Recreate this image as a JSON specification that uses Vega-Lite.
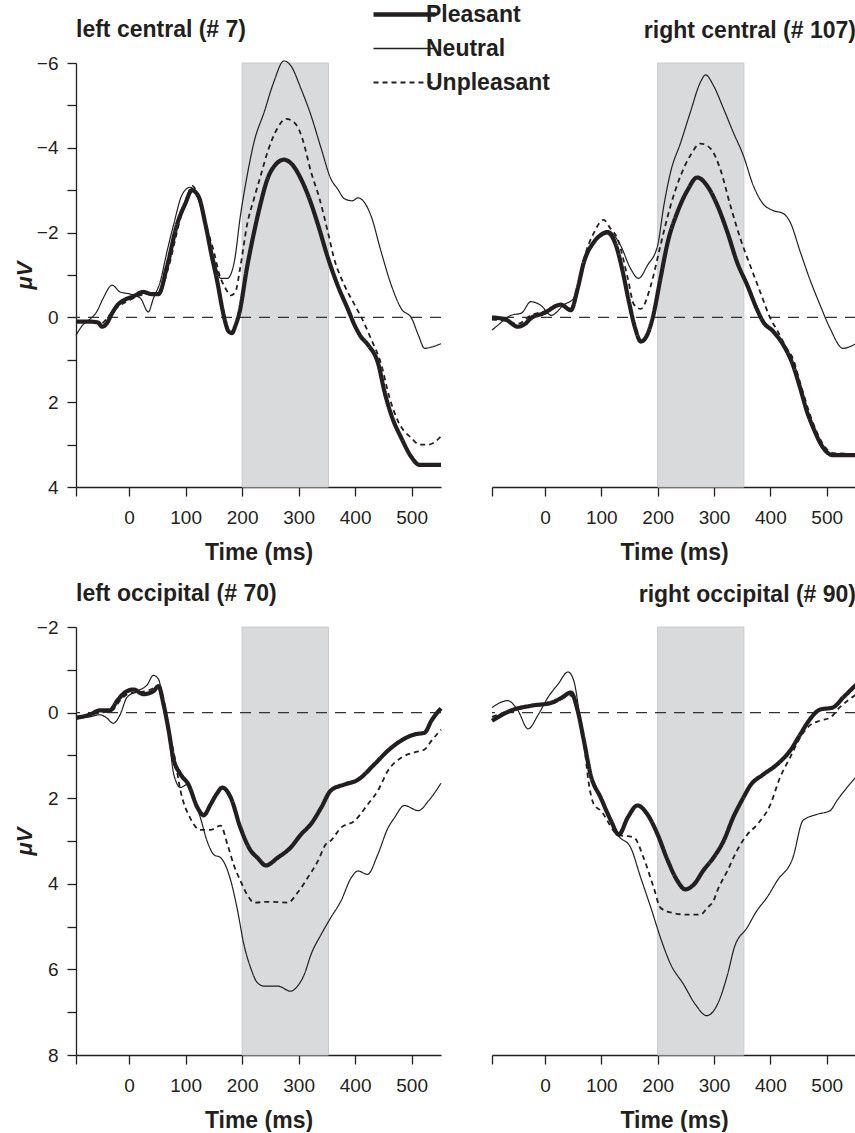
{
  "$schema": "https://vega.github.io/schema/vega-lite/v6.json",
  "background": "white",
  "padding": {"left": 13, "top": 3, "right": 0, "bottom": 0},
  "data": {"values": [
      {"p":"band","c":"band","t0":200,"t1":353,"base":0},
      {"p":"lc","c":"Pleasant","t":-94,"v":0.1},{"p":"lc","c":"Pleasant","t":-70,"v":0.1},{"p":"lc","c":"Pleasant","t":-55,"v":0.12},{"p":"lc","c":"Pleasant","t":-48,"v":0.22},{"p":"lc","c":"Pleasant","t":-40,"v":0.15},{"p":"lc","c":"Pleasant","t":-30,"v":-0.1},{"p":"lc","c":"Pleasant","t":-20,"v":-0.3},{"p":"lc","c":"Pleasant","t":-10,"v":-0.4},{"p":"lc","c":"Pleasant","t":8,"v":-0.5},{"p":"lc","c":"Pleasant","t":25,"v":-0.6},{"p":"lc","c":"Pleasant","t":40,"v":-0.55},{"p":"lc","c":"Pleasant","t":52,"v":-0.55},{"p":"lc","c":"Pleasant","t":67,"v":-1.2},{"p":"lc","c":"Pleasant","t":85,"v":-2.2},{"p":"lc","c":"Pleasant","t":100,"v":-2.7},{"p":"lc","c":"Pleasant","t":111,"v":-3.0},{"p":"lc","c":"Pleasant","t":123,"v":-2.85},{"p":"lc","c":"Pleasant","t":135,"v":-2.2},{"p":"lc","c":"Pleasant","t":147,"v":-1.4},{"p":"lc","c":"Pleasant","t":156,"v":-0.85},{"p":"lc","c":"Pleasant","t":165,"v":-0.2},{"p":"lc","c":"Pleasant","t":170,"v":0.1},{"p":"lc","c":"Pleasant","t":176,"v":0.33},{"p":"lc","c":"Pleasant","t":182,"v":0.37},{"p":"lc","c":"Pleasant","t":188,"v":0.2},{"p":"lc","c":"Pleasant","t":195,"v":-0.1},{"p":"lc","c":"Pleasant","t":209,"v":-1.2},{"p":"lc","c":"Pleasant","t":221,"v":-2.0},{"p":"lc","c":"Pleasant","t":233,"v":-2.7},{"p":"lc","c":"Pleasant","t":245,"v":-3.27},{"p":"lc","c":"Pleasant","t":259,"v":-3.6},{"p":"lc","c":"Pleasant","t":274,"v":-3.72},{"p":"lc","c":"Pleasant","t":289,"v":-3.6},{"p":"lc","c":"Pleasant","t":304,"v":-3.27},{"p":"lc","c":"Pleasant","t":319,"v":-2.8},{"p":"lc","c":"Pleasant","t":334,"v":-2.2},{"p":"lc","c":"Pleasant","t":352,"v":-1.4},{"p":"lc","c":"Pleasant","t":369,"v":-0.76},{"p":"lc","c":"Pleasant","t":387,"v":-0.2},{"p":"lc","c":"Pleasant","t":399,"v":0.18},{"p":"lc","c":"Pleasant","t":410,"v":0.45},{"p":"lc","c":"Pleasant","t":423,"v":0.65},{"p":"lc","c":"Pleasant","t":441,"v":1.1},{"p":"lc","c":"Pleasant","t":452,"v":1.75},{"p":"lc","c":"Pleasant","t":464,"v":2.3},{"p":"lc","c":"Pleasant","t":482,"v":2.85},{"p":"lc","c":"Pleasant","t":500,"v":3.3},{"p":"lc","c":"Pleasant","t":514,"v":3.48},{"p":"lc","c":"Pleasant","t":552,"v":3.48},
      {"p":"lc","c":"Unpleasant","t":-94,"v":0.1},{"p":"lc","c":"Unpleasant","t":-70,"v":0.08},{"p":"lc","c":"Unpleasant","t":-50,"v":0.15},{"p":"lc","c":"Unpleasant","t":-35,"v":-0.05},{"p":"lc","c":"Unpleasant","t":-20,"v":-0.25},{"p":"lc","c":"Unpleasant","t":0,"v":-0.4},{"p":"lc","c":"Unpleasant","t":30,"v":-0.55},{"p":"lc","c":"Unpleasant","t":52,"v":-0.55},{"p":"lc","c":"Unpleasant","t":70,"v":-1.2},{"p":"lc","c":"Unpleasant","t":90,"v":-2.3},{"p":"lc","c":"Unpleasant","t":104,"v":-2.9},{"p":"lc","c":"Unpleasant","t":112,"v":-3.1},{"p":"lc","c":"Unpleasant","t":125,"v":-2.75},{"p":"lc","c":"Unpleasant","t":140,"v":-2.0},{"p":"lc","c":"Unpleasant","t":150,"v":-1.55},{"p":"lc","c":"Unpleasant","t":160,"v":-1.0},{"p":"lc","c":"Unpleasant","t":170,"v":-0.7},{"p":"lc","c":"Unpleasant","t":180,"v":-0.52},{"p":"lc","c":"Unpleasant","t":188,"v":-0.6},{"p":"lc","c":"Unpleasant","t":197,"v":-1.2},{"p":"lc","c":"Unpleasant","t":209,"v":-2.2},{"p":"lc","c":"Unpleasant","t":221,"v":-2.8},{"p":"lc","c":"Unpleasant","t":233,"v":-3.35},{"p":"lc","c":"Unpleasant","t":245,"v":-3.9},{"p":"lc","c":"Unpleasant","t":262,"v":-4.45},{"p":"lc","c":"Unpleasant","t":278,"v":-4.68},{"p":"lc","c":"Unpleasant","t":290,"v":-4.62},{"p":"lc","c":"Unpleasant","t":300,"v":-4.45},{"p":"lc","c":"Unpleasant","t":307,"v":-4.2},{"p":"lc","c":"Unpleasant","t":322,"v":-3.43},{"p":"lc","c":"Unpleasant","t":337,"v":-2.8},{"p":"lc","c":"Unpleasant","t":352,"v":-2.0},{"p":"lc","c":"Unpleasant","t":363,"v":-1.38},{"p":"lc","c":"Unpleasant","t":381,"v":-0.76},{"p":"lc","c":"Unpleasant","t":399,"v":-0.3},{"p":"lc","c":"Unpleasant","t":411,"v":0.0},{"p":"lc","c":"Unpleasant","t":428,"v":0.5},{"p":"lc","c":"Unpleasant","t":446,"v":1.1},{"p":"lc","c":"Unpleasant","t":461,"v":1.9},{"p":"lc","c":"Unpleasant","t":476,"v":2.45},{"p":"lc","c":"Unpleasant","t":500,"v":2.85},{"p":"lc","c":"Unpleasant","t":514,"v":3.0},{"p":"lc","c":"Unpleasant","t":530,"v":3.0},{"p":"lc","c":"Unpleasant","t":540,"v":2.95},{"p":"lc","c":"Unpleasant","t":552,"v":2.8},
      {"p":"lc","c":"Neutral","t":-94,"v":0.42},{"p":"lc","c":"Neutral","t":-82,"v":0.18},{"p":"lc","c":"Neutral","t":-70,"v":0.05},{"p":"lc","c":"Neutral","t":-57,"v":-0.14},{"p":"lc","c":"Neutral","t":-46,"v":-0.45},{"p":"lc","c":"Neutral","t":-30,"v":-0.76},{"p":"lc","c":"Neutral","t":-16,"v":-0.6},{"p":"lc","c":"Neutral","t":2,"v":-0.55},{"p":"lc","c":"Neutral","t":20,"v":-0.45},{"p":"lc","c":"Neutral","t":34,"v":-0.13},{"p":"lc","c":"Neutral","t":43,"v":-0.45},{"p":"lc","c":"Neutral","t":55,"v":-0.84},{"p":"lc","c":"Neutral","t":67,"v":-1.55},{"p":"lc","c":"Neutral","t":79,"v":-2.2},{"p":"lc","c":"Neutral","t":94,"v":-2.9},{"p":"lc","c":"Neutral","t":108,"v":-3.07},{"p":"lc","c":"Neutral","t":120,"v":-2.87},{"p":"lc","c":"Neutral","t":135,"v":-2.2},{"p":"lc","c":"Neutral","t":150,"v":-1.4},{"p":"lc","c":"Neutral","t":162,"v":-0.92},{"p":"lc","c":"Neutral","t":174,"v":-0.92},{"p":"lc","c":"Neutral","t":186,"v":-1.3},{"p":"lc","c":"Neutral","t":197,"v":-2.4},{"p":"lc","c":"Neutral","t":209,"v":-3.35},{"p":"lc","c":"Neutral","t":221,"v":-4.13},{"p":"lc","c":"Neutral","t":239,"v":-4.84},{"p":"lc","c":"Neutral","t":256,"v":-5.55},{"p":"lc","c":"Neutral","t":274,"v":-6.05},{"p":"lc","c":"Neutral","t":286,"v":-5.94},{"p":"lc","c":"Neutral","t":304,"v":-5.4},{"p":"lc","c":"Neutral","t":322,"v":-4.76},{"p":"lc","c":"Neutral","t":340,"v":-3.98},{"p":"lc","c":"Neutral","t":357,"v":-3.27},{"p":"lc","c":"Neutral","t":369,"v":-3.03},{"p":"lc","c":"Neutral","t":381,"v":-2.8},{"p":"lc","c":"Neutral","t":395,"v":-2.75},{"p":"lc","c":"Neutral","t":405,"v":-2.82},{"p":"lc","c":"Neutral","t":416,"v":-2.72},{"p":"lc","c":"Neutral","t":428,"v":-2.4},{"p":"lc","c":"Neutral","t":446,"v":-1.55},{"p":"lc","c":"Neutral","t":464,"v":-0.76},{"p":"lc","c":"Neutral","t":482,"v":-0.2},{"p":"lc","c":"Neutral","t":500,"v":0.02},{"p":"lc","c":"Neutral","t":512,"v":0.42},{"p":"lc","c":"Neutral","t":523,"v":0.73},{"p":"lc","c":"Neutral","t":535,"v":0.7},{"p":"lc","c":"Neutral","t":552,"v":0.62},
      {"p":"rc","c":"Pleasant","t":-94,"v":0.0},{"p":"rc","c":"Pleasant","t":-70,"v":0.05},{"p":"rc","c":"Pleasant","t":-48,"v":0.22},{"p":"rc","c":"Pleasant","t":-35,"v":0.15},{"p":"rc","c":"Pleasant","t":-25,"v":0.02},{"p":"rc","c":"Pleasant","t":-2,"v":-0.1},{"p":"rc","c":"Pleasant","t":28,"v":-0.3},{"p":"rc","c":"Pleasant","t":46,"v":-0.17},{"p":"rc","c":"Pleasant","t":58,"v":-0.68},{"p":"rc","c":"Pleasant","t":69,"v":-1.3},{"p":"rc","c":"Pleasant","t":87,"v":-1.78},{"p":"rc","c":"Pleasant","t":100,"v":-1.95},{"p":"rc","c":"Pleasant","t":111,"v":-2.0},{"p":"rc","c":"Pleasant","t":126,"v":-1.7},{"p":"rc","c":"Pleasant","t":138,"v":-1.08},{"p":"rc","c":"Pleasant","t":149,"v":-0.37},{"p":"rc","c":"Pleasant","t":160,"v":0.25},{"p":"rc","c":"Pleasant","t":170,"v":0.57},{"p":"rc","c":"Pleasant","t":180,"v":0.45},{"p":"rc","c":"Pleasant","t":191,"v":0.02},{"p":"rc","c":"Pleasant","t":205,"v":-0.92},{"p":"rc","c":"Pleasant","t":218,"v":-1.78},{"p":"rc","c":"Pleasant","t":235,"v":-2.48},{"p":"rc","c":"Pleasant","t":253,"v":-3.0},{"p":"rc","c":"Pleasant","t":270,"v":-3.3},{"p":"rc","c":"Pleasant","t":288,"v":-3.1},{"p":"rc","c":"Pleasant","t":306,"v":-2.64},{"p":"rc","c":"Pleasant","t":324,"v":-2.0},{"p":"rc","c":"Pleasant","t":341,"v":-1.3},{"p":"rc","c":"Pleasant","t":359,"v":-0.76},{"p":"rc","c":"Pleasant","t":376,"v":-0.2},{"p":"rc","c":"Pleasant","t":387,"v":0.1},{"p":"rc","c":"Pleasant","t":405,"v":0.33},{"p":"rc","c":"Pleasant","t":423,"v":0.65},{"p":"rc","c":"Pleasant","t":440,"v":1.12},{"p":"rc","c":"Pleasant","t":453,"v":1.67},{"p":"rc","c":"Pleasant","t":465,"v":2.22},{"p":"rc","c":"Pleasant","t":476,"v":2.6},{"p":"rc","c":"Pleasant","t":494,"v":3.08},{"p":"rc","c":"Pleasant","t":511,"v":3.25},{"p":"rc","c":"Pleasant","t":552,"v":3.25},
      {"p":"rc","c":"Unpleasant","t":-94,"v":0.05},{"p":"rc","c":"Unpleasant","t":-70,"v":0.08},{"p":"rc","c":"Unpleasant","t":-48,"v":0.15},{"p":"rc","c":"Unpleasant","t":-25,"v":-0.05},{"p":"rc","c":"Unpleasant","t":0,"v":-0.15},{"p":"rc","c":"Unpleasant","t":28,"v":-0.3},{"p":"rc","c":"Unpleasant","t":46,"v":-0.2},{"p":"rc","c":"Unpleasant","t":58,"v":-0.6},{"p":"rc","c":"Unpleasant","t":70,"v":-1.4},{"p":"rc","c":"Unpleasant","t":87,"v":-2.0},{"p":"rc","c":"Unpleasant","t":104,"v":-2.3},{"p":"rc","c":"Unpleasant","t":116,"v":-2.1},{"p":"rc","c":"Unpleasant","t":129,"v":-1.85},{"p":"rc","c":"Unpleasant","t":147,"v":-0.92},{"p":"rc","c":"Unpleasant","t":158,"v":-0.3},{"p":"rc","c":"Unpleasant","t":170,"v":-0.2},{"p":"rc","c":"Unpleasant","t":188,"v":-0.76},{"p":"rc","c":"Unpleasant","t":205,"v":-1.7},{"p":"rc","c":"Unpleasant","t":223,"v":-2.64},{"p":"rc","c":"Unpleasant","t":241,"v":-3.35},{"p":"rc","c":"Unpleasant","t":258,"v":-3.82},{"p":"rc","c":"Unpleasant","t":276,"v":-4.1},{"p":"rc","c":"Unpleasant","t":294,"v":-3.98},{"p":"rc","c":"Unpleasant","t":311,"v":-3.5},{"p":"rc","c":"Unpleasant","t":329,"v":-2.64},{"p":"rc","c":"Unpleasant","t":347,"v":-1.85},{"p":"rc","c":"Unpleasant","t":364,"v":-1.23},{"p":"rc","c":"Unpleasant","t":382,"v":-0.6},{"p":"rc","c":"Unpleasant","t":400,"v":0.02},{"p":"rc","c":"Unpleasant","t":414,"v":0.35},{"p":"rc","c":"Unpleasant","t":429,"v":0.73},{"p":"rc","c":"Unpleasant","t":440,"v":0.97},{"p":"rc","c":"Unpleasant","t":453,"v":1.55},{"p":"rc","c":"Unpleasant","t":476,"v":2.5},{"p":"rc","c":"Unpleasant","t":494,"v":3.0},{"p":"rc","c":"Unpleasant","t":511,"v":3.2},{"p":"rc","c":"Unpleasant","t":552,"v":3.22},
      {"p":"rc","c":"Neutral","t":-94,"v":0.3},{"p":"rc","c":"Neutral","t":-85,"v":0.2},{"p":"rc","c":"Neutral","t":-60,"v":-0.05},{"p":"rc","c":"Neutral","t":-42,"v":-0.1},{"p":"rc","c":"Neutral","t":-25,"v":-0.37},{"p":"rc","c":"Neutral","t":-7,"v":-0.28},{"p":"rc","c":"Neutral","t":11,"v":-0.05},{"p":"rc","c":"Neutral","t":34,"v":-0.3},{"p":"rc","c":"Neutral","t":51,"v":-0.45},{"p":"rc","c":"Neutral","t":69,"v":-1.23},{"p":"rc","c":"Neutral","t":87,"v":-1.78},{"p":"rc","c":"Neutral","t":111,"v":-2.05},{"p":"rc","c":"Neutral","t":134,"v":-1.7},{"p":"rc","c":"Neutral","t":152,"v":-1.15},{"p":"rc","c":"Neutral","t":166,"v":-0.92},{"p":"rc","c":"Neutral","t":182,"v":-1.23},{"p":"rc","c":"Neutral","t":200,"v":-1.7},{"p":"rc","c":"Neutral","t":211,"v":-2.64},{"p":"rc","c":"Neutral","t":223,"v":-3.43},{"p":"rc","c":"Neutral","t":241,"v":-4.13},{"p":"rc","c":"Neutral","t":258,"v":-4.84},{"p":"rc","c":"Neutral","t":276,"v":-5.55},{"p":"rc","c":"Neutral","t":285,"v":-5.72},{"p":"rc","c":"Neutral","t":299,"v":-5.47},{"p":"rc","c":"Neutral","t":317,"v":-4.92},{"p":"rc","c":"Neutral","t":334,"v":-4.37},{"p":"rc","c":"Neutral","t":352,"v":-3.82},{"p":"rc","c":"Neutral","t":370,"v":-3.1},{"p":"rc","c":"Neutral","t":387,"v":-2.68},{"p":"rc","c":"Neutral","t":405,"v":-2.52},{"p":"rc","c":"Neutral","t":423,"v":-2.45},{"p":"rc","c":"Neutral","t":435,"v":-2.25},{"p":"rc","c":"Neutral","t":453,"v":-1.55},{"p":"rc","c":"Neutral","t":470,"v":-0.9},{"p":"rc","c":"Neutral","t":488,"v":-0.3},{"p":"rc","c":"Neutral","t":506,"v":0.26},{"p":"rc","c":"Neutral","t":529,"v":0.73},{"p":"rc","c":"Neutral","t":541,"v":0.69},{"p":"rc","c":"Neutral","t":552,"v":0.62},
      {"p":"lo","c":"Pleasant","t":-94,"v":0.12},{"p":"lo","c":"Pleasant","t":-70,"v":0.05},{"p":"lo","c":"Pleasant","t":-52,"v":-0.05},{"p":"lo","c":"Pleasant","t":-34,"v":-0.05},{"p":"lo","c":"Pleasant","t":-21,"v":-0.28},{"p":"lo","c":"Pleasant","t":-4,"v":-0.5},{"p":"lo","c":"Pleasant","t":8,"v":-0.54},{"p":"lo","c":"Pleasant","t":25,"v":-0.43},{"p":"lo","c":"Pleasant","t":43,"v":-0.5},{"p":"lo","c":"Pleasant","t":52,"v":-0.62},{"p":"lo","c":"Pleasant","t":61,"v":-0.19},{"p":"lo","c":"Pleasant","t":70,"v":0.42},{"p":"lo","c":"Pleasant","t":78,"v":1.05},{"p":"lo","c":"Pleasant","t":91,"v":1.44},{"p":"lo","c":"Pleasant","t":105,"v":1.68},{"p":"lo","c":"Pleasant","t":121,"v":2.22},{"p":"lo","c":"Pleasant","t":132,"v":2.4},{"p":"lo","c":"Pleasant","t":144,"v":2.15},{"p":"lo","c":"Pleasant","t":155,"v":1.9},{"p":"lo","c":"Pleasant","t":165,"v":1.75},{"p":"lo","c":"Pleasant","t":180,"v":1.99},{"p":"lo","c":"Pleasant","t":197,"v":2.69},{"p":"lo","c":"Pleasant","t":215,"v":3.22},{"p":"lo","c":"Pleasant","t":227,"v":3.39},{"p":"lo","c":"Pleasant","t":242,"v":3.57},{"p":"lo","c":"Pleasant","t":263,"v":3.39},{"p":"lo","c":"Pleasant","t":286,"v":3.15},{"p":"lo","c":"Pleasant","t":304,"v":2.85},{"p":"lo","c":"Pleasant","t":322,"v":2.6},{"p":"lo","c":"Pleasant","t":340,"v":2.22},{"p":"lo","c":"Pleasant","t":357,"v":1.82},{"p":"lo","c":"Pleasant","t":381,"v":1.68},{"p":"lo","c":"Pleasant","t":405,"v":1.57},{"p":"lo","c":"Pleasant","t":434,"v":1.21},{"p":"lo","c":"Pleasant","t":458,"v":0.89},{"p":"lo","c":"Pleasant","t":482,"v":0.65},{"p":"lo","c":"Pleasant","t":505,"v":0.51},{"p":"lo","c":"Pleasant","t":523,"v":0.47},{"p":"lo","c":"Pleasant","t":535,"v":0.19},{"p":"lo","c":"Pleasant","t":552,"v":-0.1},
      {"p":"lo","c":"Unpleasant","t":-94,"v":0.1},{"p":"lo","c":"Unpleasant","t":-70,"v":0.05},{"p":"lo","c":"Unpleasant","t":-50,"v":0.0},{"p":"lo","c":"Unpleasant","t":-30,"v":-0.05},{"p":"lo","c":"Unpleasant","t":-15,"v":-0.3},{"p":"lo","c":"Unpleasant","t":0,"v":-0.45},{"p":"lo","c":"Unpleasant","t":30,"v":-0.5},{"p":"lo","c":"Unpleasant","t":52,"v":-0.6},{"p":"lo","c":"Unpleasant","t":61,"v":-0.3},{"p":"lo","c":"Unpleasant","t":70,"v":0.4},{"p":"lo","c":"Unpleasant","t":80,"v":1.0},{"p":"lo","c":"Unpleasant","t":91,"v":1.83},{"p":"lo","c":"Unpleasant","t":108,"v":2.46},{"p":"lo","c":"Unpleasant","t":126,"v":2.74},{"p":"lo","c":"Unpleasant","t":144,"v":2.74},{"p":"lo","c":"Unpleasant","t":162,"v":2.64},{"p":"lo","c":"Unpleasant","t":174,"v":3.08},{"p":"lo","c":"Unpleasant","t":185,"v":3.55},{"p":"lo","c":"Unpleasant","t":197,"v":3.93},{"p":"lo","c":"Unpleasant","t":212,"v":4.32},{"p":"lo","c":"Unpleasant","t":221,"v":4.44},{"p":"lo","c":"Unpleasant","t":245,"v":4.42},{"p":"lo","c":"Unpleasant","t":281,"v":4.44},{"p":"lo","c":"Unpleasant","t":298,"v":4.21},{"p":"lo","c":"Unpleasant","t":316,"v":3.86},{"p":"lo","c":"Unpleasant","t":334,"v":3.47},{"p":"lo","c":"Unpleasant","t":348,"v":3.08},{"p":"lo","c":"Unpleasant","t":357,"v":2.99},{"p":"lo","c":"Unpleasant","t":375,"v":2.69},{"p":"lo","c":"Unpleasant","t":399,"v":2.53},{"p":"lo","c":"Unpleasant","t":422,"v":2.15},{"p":"lo","c":"Unpleasant","t":440,"v":1.83},{"p":"lo","c":"Unpleasant","t":458,"v":1.36},{"p":"lo","c":"Unpleasant","t":482,"v":1.05},{"p":"lo","c":"Unpleasant","t":505,"v":0.93},{"p":"lo","c":"Unpleasant","t":523,"v":0.86},{"p":"lo","c":"Unpleasant","t":535,"v":0.66},{"p":"lo","c":"Unpleasant","t":552,"v":0.4},
      {"p":"lo","c":"Neutral","t":-94,"v":0.15},{"p":"lo","c":"Neutral","t":-70,"v":0.1},{"p":"lo","c":"Neutral","t":-52,"v":0.05},{"p":"lo","c":"Neutral","t":-40,"v":0.12},{"p":"lo","c":"Neutral","t":-28,"v":0.25},{"p":"lo","c":"Neutral","t":-16,"v":0.05},{"p":"lo","c":"Neutral","t":-4,"v":-0.35},{"p":"lo","c":"Neutral","t":14,"v":-0.5},{"p":"lo","c":"Neutral","t":32,"v":-0.65},{"p":"lo","c":"Neutral","t":43,"v":-0.87},{"p":"lo","c":"Neutral","t":52,"v":-0.78},{"p":"lo","c":"Neutral","t":61,"v":-0.19},{"p":"lo","c":"Neutral","t":70,"v":0.51},{"p":"lo","c":"Neutral","t":79,"v":1.44},{"p":"lo","c":"Neutral","t":91,"v":1.75},{"p":"lo","c":"Neutral","t":103,"v":1.68},{"p":"lo","c":"Neutral","t":114,"v":1.99},{"p":"lo","c":"Neutral","t":126,"v":2.45},{"p":"lo","c":"Neutral","t":138,"v":3.0},{"p":"lo","c":"Neutral","t":150,"v":3.32},{"p":"lo","c":"Neutral","t":162,"v":3.39},{"p":"lo","c":"Neutral","t":180,"v":3.93},{"p":"lo","c":"Neutral","t":192,"v":4.63},{"p":"lo","c":"Neutral","t":203,"v":5.41},{"p":"lo","c":"Neutral","t":215,"v":5.96},{"p":"lo","c":"Neutral","t":227,"v":6.31},{"p":"lo","c":"Neutral","t":239,"v":6.39},{"p":"lo","c":"Neutral","t":263,"v":6.39},{"p":"lo","c":"Neutral","t":286,"v":6.51},{"p":"lo","c":"Neutral","t":298,"v":6.39},{"p":"lo","c":"Neutral","t":310,"v":6.12},{"p":"lo","c":"Neutral","t":322,"v":5.65},{"p":"lo","c":"Neutral","t":340,"v":5.18},{"p":"lo","c":"Neutral","t":357,"v":4.79},{"p":"lo","c":"Neutral","t":375,"v":4.4},{"p":"lo","c":"Neutral","t":393,"v":3.86},{"p":"lo","c":"Neutral","t":405,"v":3.7},{"p":"lo","c":"Neutral","t":422,"v":3.78},{"p":"lo","c":"Neutral","t":440,"v":3.32},{"p":"lo","c":"Neutral","t":458,"v":2.7},{"p":"lo","c":"Neutral","t":470,"v":2.45},{"p":"lo","c":"Neutral","t":487,"v":2.17},{"p":"lo","c":"Neutral","t":512,"v":2.29},{"p":"lo","c":"Neutral","t":530,"v":2.06},{"p":"lo","c":"Neutral","t":552,"v":1.65},
      {"p":"ro","c":"Pleasant","t":-94,"v":0.19},{"p":"ro","c":"Pleasant","t":-60,"v":-0.05},{"p":"ro","c":"Pleasant","t":-25,"v":-0.16},{"p":"ro","c":"Pleasant","t":11,"v":-0.23},{"p":"ro","c":"Pleasant","t":30,"v":-0.35},{"p":"ro","c":"Pleasant","t":46,"v":-0.47},{"p":"ro","c":"Pleasant","t":58,"v":-0.05},{"p":"ro","c":"Pleasant","t":69,"v":0.65},{"p":"ro","c":"Pleasant","t":81,"v":1.45},{"p":"ro","c":"Pleasant","t":99,"v":1.99},{"p":"ro","c":"Pleasant","t":117,"v":2.52},{"p":"ro","c":"Pleasant","t":131,"v":2.85},{"p":"ro","c":"Pleasant","t":147,"v":2.45},{"p":"ro","c":"Pleasant","t":164,"v":2.17},{"p":"ro","c":"Pleasant","t":182,"v":2.38},{"p":"ro","c":"Pleasant","t":200,"v":2.85},{"p":"ro","c":"Pleasant","t":218,"v":3.46},{"p":"ro","c":"Pleasant","t":235,"v":3.93},{"p":"ro","c":"Pleasant","t":249,"v":4.13},{"p":"ro","c":"Pleasant","t":264,"v":4.02},{"p":"ro","c":"Pleasant","t":281,"v":3.69},{"p":"ro","c":"Pleasant","t":299,"v":3.39},{"p":"ro","c":"Pleasant","t":317,"v":3.0},{"p":"ro","c":"Pleasant","t":334,"v":2.45},{"p":"ro","c":"Pleasant","t":352,"v":1.99},{"p":"ro","c":"Pleasant","t":364,"v":1.71},{"p":"ro","c":"Pleasant","t":387,"v":1.45},{"p":"ro","c":"Pleasant","t":412,"v":1.21},{"p":"ro","c":"Pleasant","t":435,"v":0.89},{"p":"ro","c":"Pleasant","t":453,"v":0.51},{"p":"ro","c":"Pleasant","t":470,"v":0.16},{"p":"ro","c":"Pleasant","t":488,"v":-0.07},{"p":"ro","c":"Pleasant","t":511,"v":-0.12},{"p":"ro","c":"Pleasant","t":529,"v":-0.35},{"p":"ro","c":"Pleasant","t":552,"v":-0.65},
      {"p":"ro","c":"Unpleasant","t":-94,"v":0.1},{"p":"ro","c":"Unpleasant","t":-60,"v":-0.05},{"p":"ro","c":"Unpleasant","t":-25,"v":-0.15},{"p":"ro","c":"Unpleasant","t":11,"v":-0.2},{"p":"ro","c":"Unpleasant","t":46,"v":-0.4},{"p":"ro","c":"Unpleasant","t":58,"v":0.0},{"p":"ro","c":"Unpleasant","t":70,"v":0.8},{"p":"ro","c":"Unpleasant","t":77,"v":1.59},{"p":"ro","c":"Unpleasant","t":87,"v":2.15},{"p":"ro","c":"Unpleasant","t":99,"v":2.29},{"p":"ro","c":"Unpleasant","t":129,"v":2.85},{"p":"ro","c":"Unpleasant","t":158,"v":2.92},{"p":"ro","c":"Unpleasant","t":175,"v":3.39},{"p":"ro","c":"Unpleasant","t":193,"v":4.09},{"p":"ro","c":"Unpleasant","t":205,"v":4.56},{"p":"ro","c":"Unpleasant","t":223,"v":4.67},{"p":"ro","c":"Unpleasant","t":253,"v":4.72},{"p":"ro","c":"Unpleasant","t":276,"v":4.72},{"p":"ro","c":"Unpleasant","t":288,"v":4.56},{"p":"ro","c":"Unpleasant","t":299,"v":4.4},{"p":"ro","c":"Unpleasant","t":306,"v":4.16},{"p":"ro","c":"Unpleasant","t":324,"v":3.69},{"p":"ro","c":"Unpleasant","t":341,"v":3.22},{"p":"ro","c":"Unpleasant","t":359,"v":2.85},{"p":"ro","c":"Unpleasant","t":377,"v":2.61},{"p":"ro","c":"Unpleasant","t":400,"v":2.15},{"p":"ro","c":"Unpleasant","t":417,"v":1.52},{"p":"ro","c":"Unpleasant","t":435,"v":1.05},{"p":"ro","c":"Unpleasant","t":453,"v":0.58},{"p":"ro","c":"Unpleasant","t":470,"v":0.3},{"p":"ro","c":"Unpleasant","t":488,"v":0.19},{"p":"ro","c":"Unpleasant","t":506,"v":0.12},{"p":"ro","c":"Unpleasant","t":523,"v":-0.12},{"p":"ro","c":"Unpleasant","t":552,"v":-0.42},
      {"p":"ro","c":"Neutral","t":-94,"v":-0.12},{"p":"ro","c":"Neutral","t":-66,"v":-0.28},{"p":"ro","c":"Neutral","t":-48,"v":-0.05},{"p":"ro","c":"Neutral","t":-30,"v":0.38},{"p":"ro","c":"Neutral","t":-12,"v":0.05},{"p":"ro","c":"Neutral","t":5,"v":-0.35},{"p":"ro","c":"Neutral","t":23,"v":-0.66},{"p":"ro","c":"Neutral","t":41,"v":-0.95},{"p":"ro","c":"Neutral","t":51,"v":-0.75},{"p":"ro","c":"Neutral","t":64,"v":0.28},{"p":"ro","c":"Neutral","t":76,"v":1.21},{"p":"ro","c":"Neutral","t":94,"v":1.82},{"p":"ro","c":"Neutral","t":111,"v":2.29},{"p":"ro","c":"Neutral","t":129,"v":2.85},{"p":"ro","c":"Neutral","t":152,"v":3.15},{"p":"ro","c":"Neutral","t":170,"v":3.86},{"p":"ro","c":"Neutral","t":188,"v":4.56},{"p":"ro","c":"Neutral","t":205,"v":5.26},{"p":"ro","c":"Neutral","t":223,"v":5.88},{"p":"ro","c":"Neutral","t":246,"v":6.35},{"p":"ro","c":"Neutral","t":267,"v":6.82},{"p":"ro","c":"Neutral","t":287,"v":7.08},{"p":"ro","c":"Neutral","t":306,"v":6.82},{"p":"ro","c":"Neutral","t":324,"v":6.12},{"p":"ro","c":"Neutral","t":336,"v":5.49},{"p":"ro","c":"Neutral","t":359,"v":5.02},{"p":"ro","c":"Neutral","t":376,"v":4.63},{"p":"ro","c":"Neutral","t":394,"v":4.32},{"p":"ro","c":"Neutral","t":412,"v":3.93},{"p":"ro","c":"Neutral","t":440,"v":3.39},{"p":"ro","c":"Neutral","t":458,"v":2.52},{"p":"ro","c":"Neutral","t":482,"v":2.38},{"p":"ro","c":"Neutral","t":506,"v":2.29},{"p":"ro","c":"Neutral","t":518,"v":2.06},{"p":"ro","c":"Neutral","t":552,"v":1.5}
  ]},
  "vconcat": [
    {
      "hconcat": [
        {
          "width": 365, "height": 424,
          "title": {"text": "left central (# 7)", "anchor": "start", "frame": "group", "offset": 12},
          "transform": [{"filter": "datum.p === 'band' || datum.p === 'lc'"}],
          "layer": [
            {"transform": [{"filter": "datum.p === 'band'"}], "mark": {"type": "rect", "color": "#d9dadc", "stroke": "#c9cacc", "strokeWidth": 1},
             "encoding": {"x": {"field": "t0", "type": "quantitative"}, "x2": {"field": "t1"}}},
            {"transform": [{"filter": "datum.p === 'band'"}], "mark": {"type": "rule", "color": "#333333", "strokeDash": [11, 8], "strokeWidth": 1.4},
             "encoding": {"y": {"field": "base", "type": "quantitative"}}},
            {"transform": [{"filter": "datum.c === 'Neutral'"}], "mark": {"type": "line", "interpolate": "monotone", "color": "#231f20", "strokeWidth": 1.2},
             "encoding": {
               "x": {"field": "t", "type": "quantitative", "scale": {"domain": [-94, 552], "nice": false, "zero": false},
                     "axis": {"title": "Time (ms)", "values": [-94, -50, 0, 50, 100, 150, 200, 250, 300, 350, 400, 450, 500, 550], "labelExpr": "datum.value >= 0 && datum.value % 100 === 0 ? datum.label : ''"}},
               "y": {"field": "v", "type": "quantitative", "scale": {"domain": [-6, 4], "reverse": true, "nice": false, "zero": false},
                     "axis": {"title": "μV", "values": [-6, -5, -4, -3, -2, -1, 0, 1, 2, 3, 4], "labelExpr": "datum.value % 2 === 0 ? datum.label : ''"}},
               "strokeDash": {"field": "c", "type": "nominal", "scale": {"domain": ["Pleasant", "Neutral", "Unpleasant"], "range": [[1, 0], [1, 0], [5, 4]]},
                              "legend": {"orient": "none", "legendX": 317, "legendY": -60, "title": null,
                                         "encoding": {"symbols": {"strokeWidth": {"value": {"expr": "datum.value === 'Pleasant' ? 4.5 : datum.value === 'Neutral' ? 1.3 : 1.8"}}}}}}}},
            {"transform": [{"filter": "datum.c === 'Unpleasant'"}], "mark": {"type": "line", "interpolate": "monotone", "color": "#231f20", "strokeWidth": 1.8},
             "encoding": {"x": {"field": "t", "type": "quantitative"}, "y": {"field": "v", "type": "quantitative"},
                          "strokeDash": {"field": "c", "type": "nominal", "scale": {"domain": ["Pleasant", "Neutral", "Unpleasant"], "range": [[1, 0], [1, 0], [5, 4]]}}}},
            {"transform": [{"filter": "datum.c === 'Pleasant'"}], "mark": {"type": "line", "interpolate": "monotone", "color": "#231f20", "strokeWidth": 4.2},
             "encoding": {"x": {"field": "t", "type": "quantitative"}, "y": {"field": "v", "type": "quantitative"},
                          "strokeDash": {"field": "c", "type": "nominal", "scale": {"domain": ["Pleasant", "Neutral", "Unpleasant"], "range": [[1, 0], [1, 0], [5, 4]]}}}}
          ]
        },
        {
          "width": 364, "height": 424,
          "title": {"text": "right central (# 107)", "anchor": "end", "frame": "group", "offset": 20},
          "transform": [{"filter": "datum.p === 'band' || datum.p === 'rc'"}],
          "layer": [
            {"transform": [{"filter": "datum.p === 'band'"}], "mark": {"type": "rect", "color": "#d9dadc", "stroke": "#c9cacc", "strokeWidth": 1},
             "encoding": {"x": {"field": "t0", "type": "quantitative"}, "x2": {"field": "t1"}}},
            {"transform": [{"filter": "datum.p === 'band'"}], "mark": {"type": "rule", "color": "#333333", "strokeDash": [11, 8], "strokeWidth": 1.4},
             "encoding": {"y": {"field": "base", "type": "quantitative", "axis": null}}},
            {"transform": [{"filter": "datum.c === 'Neutral'"}], "mark": {"type": "line", "interpolate": "monotone", "color": "#231f20", "strokeWidth": 1.2},
             "encoding": {
               "x": {"field": "t", "type": "quantitative", "scale": {"domain": [-94, 552], "nice": false, "zero": false},
                     "axis": {"title": "Time (ms)", "values": [-94, -50, 0, 50, 100, 150, 200, 250, 300, 350, 400, 450, 500, 550], "labelExpr": "datum.value >= 0 && datum.value % 100 === 0 ? datum.label : ''"}},
               "y": {"field": "v", "type": "quantitative", "scale": {"domain": [-6, 4], "reverse": true, "nice": false, "zero": false}, "axis": null},
               "strokeDash": {"field": "c", "type": "nominal", "scale": {"domain": ["Pleasant", "Neutral", "Unpleasant"], "range": [[1, 0], [1, 0], [5, 4]]}}}},
            {"transform": [{"filter": "datum.c === 'Unpleasant'"}], "mark": {"type": "line", "interpolate": "monotone", "color": "#231f20", "strokeWidth": 1.8},
             "encoding": {"x": {"field": "t", "type": "quantitative"}, "y": {"field": "v", "type": "quantitative", "axis": null},
                          "strokeDash": {"field": "c", "type": "nominal", "scale": {"domain": ["Pleasant", "Neutral", "Unpleasant"], "range": [[1, 0], [1, 0], [5, 4]]}}}},
            {"transform": [{"filter": "datum.c === 'Pleasant'"}], "mark": {"type": "line", "interpolate": "monotone", "color": "#231f20", "strokeWidth": 4.2},
             "encoding": {"x": {"field": "t", "type": "quantitative"}, "y": {"field": "v", "type": "quantitative", "axis": null},
                          "strokeDash": {"field": "c", "type": "nominal", "scale": {"domain": ["Pleasant", "Neutral", "Unpleasant"], "range": [[1, 0], [1, 0], [5, 4]]}}}}
          ]
        }
      ],
      "spacing": 33
    },
    {
      "hconcat": [
        {
          "width": 365, "height": 428,
          "title": {"text": "left occipital (# 70)", "anchor": "start", "frame": "group", "offset": 12},
          "transform": [{"filter": "datum.p === 'band' || datum.p === 'lo'"}],
          "layer": [
            {"transform": [{"filter": "datum.p === 'band'"}], "mark": {"type": "rect", "color": "#d9dadc", "stroke": "#c9cacc", "strokeWidth": 1},
             "encoding": {"x": {"field": "t0", "type": "quantitative"}, "x2": {"field": "t1"}}},
            {"transform": [{"filter": "datum.p === 'band'"}], "mark": {"type": "rule", "color": "#333333", "strokeDash": [11, 8], "strokeWidth": 1.4},
             "encoding": {"y": {"field": "base", "type": "quantitative"}}},
            {"transform": [{"filter": "datum.c === 'Neutral'"}], "mark": {"type": "line", "interpolate": "monotone", "color": "#231f20", "strokeWidth": 1.2},
             "encoding": {
               "x": {"field": "t", "type": "quantitative", "scale": {"domain": [-94, 552], "nice": false, "zero": false},
                     "axis": {"title": "Time (ms)", "values": [-94, -50, 0, 50, 100, 150, 200, 250, 300, 350, 400, 450, 500, 550], "labelExpr": "datum.value >= 0 && datum.value % 100 === 0 ? datum.label : ''"}},
               "y": {"field": "v", "type": "quantitative", "scale": {"domain": [-2, 8], "reverse": true, "nice": false, "zero": false},
                     "axis": {"title": "μV", "values": [-2, -1, 0, 1, 2, 3, 4, 5, 6, 7, 8], "labelExpr": "datum.value % 2 === 0 ? datum.label : ''"}},
               "strokeDash": {"field": "c", "type": "nominal", "scale": {"domain": ["Pleasant", "Neutral", "Unpleasant"], "range": [[1, 0], [1, 0], [5, 4]]}}}},
            {"transform": [{"filter": "datum.c === 'Unpleasant'"}], "mark": {"type": "line", "interpolate": "monotone", "color": "#231f20", "strokeWidth": 1.8},
             "encoding": {"x": {"field": "t", "type": "quantitative"}, "y": {"field": "v", "type": "quantitative"},
                          "strokeDash": {"field": "c", "type": "nominal", "scale": {"domain": ["Pleasant", "Neutral", "Unpleasant"], "range": [[1, 0], [1, 0], [5, 4]]}}}},
            {"transform": [{"filter": "datum.c === 'Pleasant'"}], "mark": {"type": "line", "interpolate": "monotone", "color": "#231f20", "strokeWidth": 4.2},
             "encoding": {"x": {"field": "t", "type": "quantitative"}, "y": {"field": "v", "type": "quantitative"},
                          "strokeDash": {"field": "c", "type": "nominal", "scale": {"domain": ["Pleasant", "Neutral", "Unpleasant"], "range": [[1, 0], [1, 0], [5, 4]]}}}}
          ]
        },
        {
          "width": 364, "height": 428,
          "title": {"text": "right occipital (# 90)", "anchor": "end", "frame": "group", "offset": 20},
          "transform": [{"filter": "datum.p === 'band' || datum.p === 'ro'"}],
          "layer": [
            {"transform": [{"filter": "datum.p === 'band'"}], "mark": {"type": "rect", "color": "#d9dadc", "stroke": "#c9cacc", "strokeWidth": 1},
             "encoding": {"x": {"field": "t0", "type": "quantitative"}, "x2": {"field": "t1"}}},
            {"transform": [{"filter": "datum.p === 'band'"}], "mark": {"type": "rule", "color": "#333333", "strokeDash": [11, 8], "strokeWidth": 1.4},
             "encoding": {"y": {"field": "base", "type": "quantitative", "axis": null}}},
            {"transform": [{"filter": "datum.c === 'Neutral'"}], "mark": {"type": "line", "interpolate": "monotone", "color": "#231f20", "strokeWidth": 1.2},
             "encoding": {
               "x": {"field": "t", "type": "quantitative", "scale": {"domain": [-94, 552], "nice": false, "zero": false},
                     "axis": {"title": "Time (ms)", "values": [-94, -50, 0, 50, 100, 150, 200, 250, 300, 350, 400, 450, 500, 550], "labelExpr": "datum.value >= 0 && datum.value % 100 === 0 ? datum.label : ''"}},
               "y": {"field": "v", "type": "quantitative", "scale": {"domain": [-2, 8], "reverse": true, "nice": false, "zero": false}, "axis": null},
               "strokeDash": {"field": "c", "type": "nominal", "scale": {"domain": ["Pleasant", "Neutral", "Unpleasant"], "range": [[1, 0], [1, 0], [5, 4]]}}}},
            {"transform": [{"filter": "datum.c === 'Unpleasant'"}], "mark": {"type": "line", "interpolate": "monotone", "color": "#231f20", "strokeWidth": 1.8},
             "encoding": {"x": {"field": "t", "type": "quantitative"}, "y": {"field": "v", "type": "quantitative", "axis": null},
                          "strokeDash": {"field": "c", "type": "nominal", "scale": {"domain": ["Pleasant", "Neutral", "Unpleasant"], "range": [[1, 0], [1, 0], [5, 4]]}}}},
            {"transform": [{"filter": "datum.c === 'Pleasant'"}], "mark": {"type": "line", "interpolate": "monotone", "color": "#231f20", "strokeWidth": 4.2},
             "encoding": {"x": {"field": "t", "type": "quantitative"}, "y": {"field": "v", "type": "quantitative", "axis": null},
                          "strokeDash": {"field": "c", "type": "nominal", "scale": {"domain": ["Pleasant", "Neutral", "Unpleasant"], "range": [[1, 0], [1, 0], [5, 4]]}}}}
          ]
        }
      ],
      "spacing": 33
    }
  ],
  "spacing": 19,
  "config": {
    "view": {"stroke": null},
    "font": "Liberation Sans",
    "title": {"fontSize": 23, "fontWeight": "bold", "color": "#231f20", "font": "Liberation Sans"},
    "axis": {
      "grid": false, "domainColor": "#231f20", "tickColor": "#231f20", "domainWidth": 1.3, "tickWidth": 1.3, "tickSize": 9,
      "labelColor": "#231f20", "labelFont": "Liberation Sans", "labelFontSize": 19, "labelOverlap": false, "labelFlush": false,
      "titleColor": "#231f20", "titleFont": "Liberation Sans", "titleFontSize": 23, "titleFontWeight": "bold"
    },
    "axisX": {"labelPadding": 12, "titlePadding": 14},
    "axisY": {"labelPadding": 9, "titlePadding": 0, "titleFontStyle": "italic", "titleFontSize": 22},
    "legend": {
      "symbolType": "stroke", "symbolSize": 3844, "symbolStrokeColor": "#231f20", "symbolStrokeWidth": 1.5,
      "labelFont": "Liberation Sans", "labelFontSize": 23, "labelFontWeight": "bold", "labelColor": "#231f20",
      "labelOffset": 10, "rowPadding": 10, "padding": 0
    }
  }
}
